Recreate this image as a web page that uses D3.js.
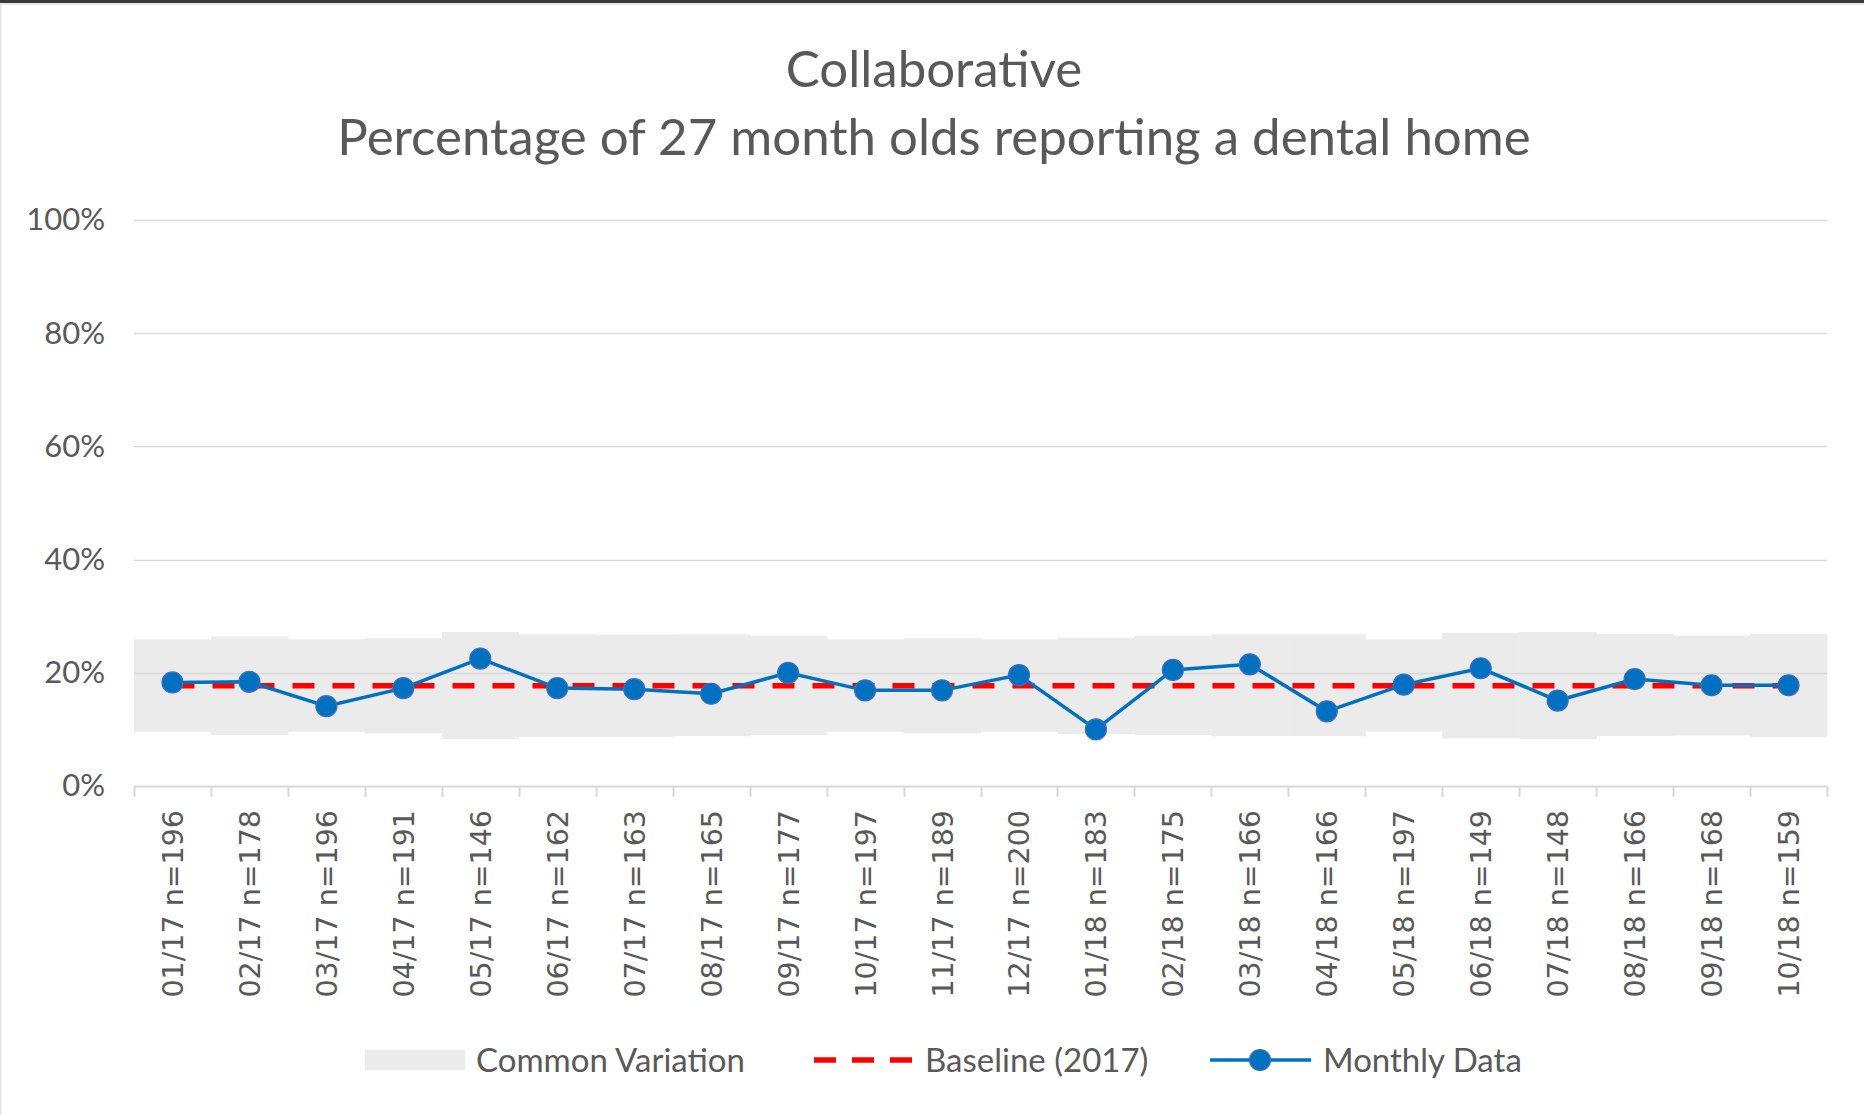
<!DOCTYPE html>
<html>
<head>
<meta charset="utf-8">
<script src="https://cdn.jsdelivr.net/npm/d3@7"></script>
<style>
  html, body { margin: 0; padding: 0; background: #fff; }
  svg { display: block; }
</style>
</head>
<body>
<svg id="chart" width="1864" height="1115"></svg>
<script>
// ---- data ----
const months = ["01/17","02/17","03/17","04/17","05/17","06/17","07/17","08/17","09/17","10/17","11/17",
                "12/17","01/18","02/18","03/18","04/18","05/18","06/18","07/18","08/18","09/18","10/18"];
const sampleSizes = [196,178,196,191,146,162,163,165,177,197,189,200,183,175,166,166,197,149,148,166,168,159];
const monthlyData = [18.3,18.4,14.1,17.3,22.5,17.3,17.1,16.3,20.0,16.9,16.9,19.6,10.0,20.5,21.5,13.2,17.9,20.8,15.1,18.9,17.8,17.8];
const baselineValue = 17.7;
const upperLimit = [25.9,26.4,25.9,26.1,27.2,26.8,26.7,26.8,26.5,25.9,26.1,25.9,26.2,26.5,26.8,26.8,25.9,27.1,27.2,26.9,26.6,26.9];
const lowerLimit = [9.6,9.0,9.6,9.3,8.3,8.7,8.7,8.8,9.0,9.6,9.3,9.6,9.2,9.0,8.8,8.8,9.6,8.4,8.3,8.8,8.9,8.6];
const yTicks = [0,20,40,60,80,100];
const titleLines = ["Collaborative", "Percentage of 27 month olds reporting a dental home"];
const legendLabels = ["Common Variation", "Baseline (2017)", "Monthly Data"];

const labels = months.map((m, i) => `${m} n=${sampleSizes[i]}`);

// ---- layout ----
const W = 1864, H = 1115;
const plot = { left: 134, right: 1827, top: 220, bottom: 786 };
const textColor = "#595959";
const gridColor = "#d9d9d9";
const bandColor = "#ebebeb";
const blue = "#0070C0";
const red = "#FF0000";

const svg = d3.select("#chart");
svg.append("rect").attr("width", W).attr("height", H).attr("fill", "#fff");
// frame edges
svg.append("rect").attr("x", 0).attr("y", 0).attr("width", W).attr("height", 3).attr("fill", "#3a3a3a");
svg.append("rect").attr("x", 0).attr("y", 3).attr("width", W).attr("height", 2).attr("fill", "#e6e6e6");
svg.append("rect").attr("x", 0).attr("y", 3).attr("width", 1.5).attr("height", H).attr("fill", "#e3e3e3");

const x = d3.scaleBand().domain(labels).range([plot.left, plot.right]).paddingInner(0).paddingOuter(0);
const y = d3.scaleLinear().domain([0, 100]).range([plot.bottom, plot.top]);

// title
svg.append("g").selectAll("text").data(titleLines).join("text")
  .attr("x", 934)
  .attr("y", (d, i) => i === 0 ? 87 : 155)
  .attr("text-anchor", "middle")
  .attr("font-family", "Lato, 'Open Sans', sans-serif")
  .attr("font-size", 51)
  .attr("fill", textColor)
  .text(d => d);

// common variation band (step per month)
svg.append("g").selectAll("rect").data(labels).join("rect")
  .attr("x", d => x(d))
  .attr("width", x.bandwidth() + 0.5)
  .attr("y", (d, i) => y(upperLimit[i]))
  .attr("height", (d, i) => y(lowerLimit[i]) - y(upperLimit[i]))
  .attr("fill", bandColor);

// y axis labels
const yAxis = d3.axisLeft(y).tickValues(yTicks).tickFormat(d => d + "%").tickSize(0).tickPadding(29);
const gy = svg.append("g").attr("transform", `translate(${plot.left},0)`).call(yAxis);
gy.select(".domain").remove();
gy.selectAll("text")
  .attr("font-family", "Lato, 'Open Sans', sans-serif")
  .attr("font-size", 31)
  .attr("fill", textColor);
// gridlines
svg.append("g").selectAll("line").data(yTicks.filter(t => t > 0)).join("line")
  .attr("x1", plot.left).attr("x2", plot.right)
  .attr("y1", d => Math.round(y(d)) + 0.5).attr("y2", d => Math.round(y(d)) + 0.5)
  .attr("stroke", gridColor).attr("stroke-width", 1.5);

// x axis
const xAxis = d3.axisBottom(x).tickSize(0).tickPadding(0);
const gx = svg.append("g").attr("transform", `translate(0,${plot.bottom})`).call(xAxis);
gx.select(".domain").attr("stroke", gridColor).attr("stroke-width", 2);
gx.selectAll(".tick line").remove();
gx.selectAll(".tick text")
  .attr("font-family", "'DejaVu Sans', Verdana, sans-serif")
  .attr("font-size", 28.5)
  .attr("fill", textColor)
  .attr("text-anchor", "end")
  .attr("dominant-baseline", "central")
  .attr("dy", null)
  .attr("transform", "translate(1,24) rotate(-90)");
// category boundary ticks
const boundaries = labels.map(d => x(d)).concat([plot.right]);
svg.append("g").selectAll("line").data(boundaries).join("line")
  .attr("x1", d => Math.round(d) + 0.5).attr("x2", d => Math.round(d) + 0.5)
  .attr("y1", plot.bottom).attr("y2", plot.bottom + 11)
  .attr("stroke", gridColor).attr("stroke-width", 2);

const cx = d => x(d) + x.bandwidth() / 2;

// baseline
svg.append("line")
  .attr("x1", cx(labels[0])).attr("x2", cx(labels[labels.length - 1]))
  .attr("y1", y(baselineValue)).attr("y2", y(baselineValue))
  .attr("stroke", red).attr("stroke-width", 5.5)
  .attr("stroke-dasharray", "22,18");

// monthly data line
const line = d3.line().x((d, i) => cx(labels[i])).y(d => y(d));
svg.append("path").datum(monthlyData)
  .attr("d", line).attr("fill", "none")
  .attr("stroke", blue).attr("stroke-width", 3.5);
svg.append("g").selectAll("circle").data(monthlyData).join("circle")
  .attr("cx", (d, i) => cx(labels[i])).attr("cy", d => y(d))
  .attr("r", 10.5)
  .attr("fill", blue).attr("stroke", "#3a6fc0").attr("stroke-width", 1.2);

// legend
const lg = svg.append("g");
const legY = 1060;
lg.append("rect").attr("x", 365).attr("y", legY - 10).attr("width", 100).attr("height", 20).attr("fill", bandColor);
lg.append("line").attr("x1", 814).attr("x2", 912).attr("y1", legY).attr("y2", legY)
  .attr("stroke", red).attr("stroke-width", 5.5).attr("stroke-dasharray", "22,16");
lg.append("line").attr("x1", 1210).attr("x2", 1311).attr("y1", legY).attr("y2", legY)
  .attr("stroke", blue).attr("stroke-width", 3.5);
lg.append("circle").attr("cx", 1260).attr("cy", legY).attr("r", 10.5)
  .attr("fill", blue).attr("stroke", "#3a6fc0").attr("stroke-width", 1.2);
const legX = [476, 925, 1323];
lg.selectAll("text").data(legendLabels).join("text")
  .attr("x", (d, i) => legX[i]).attr("y", legY + 12)
  .attr("font-family", "Lato, 'Open Sans', sans-serif")
  .attr("font-size", 33)
  .attr("fill", textColor)
  .text(d => d);
</script>
</body>
</html>
